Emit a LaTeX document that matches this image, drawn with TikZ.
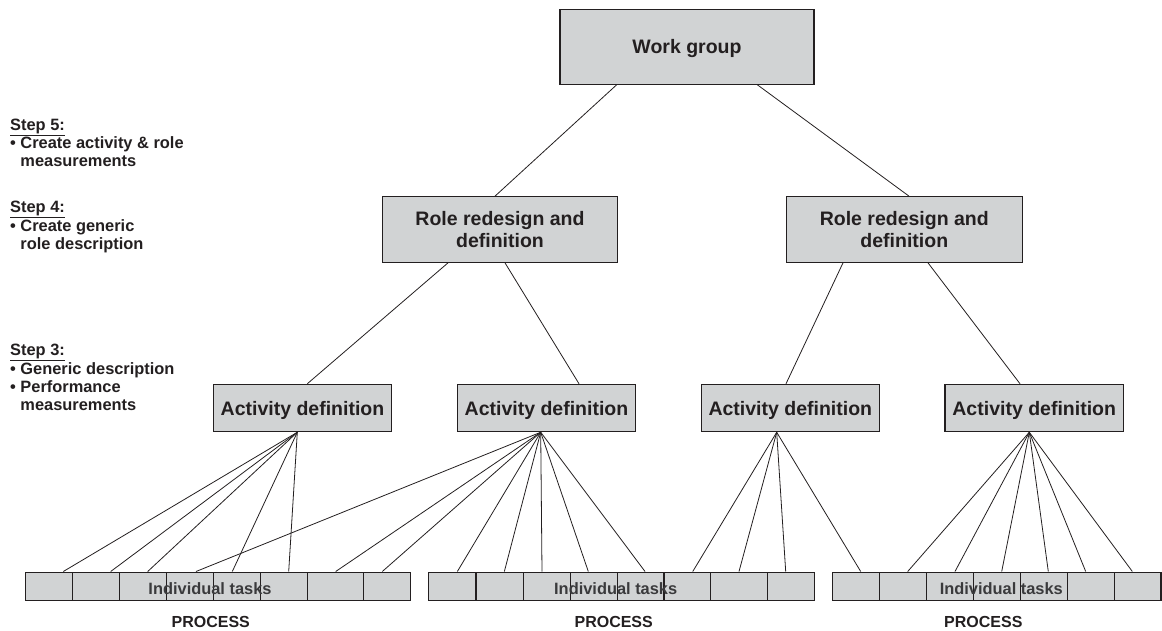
\documentclass[tikz,border=0pt]{standalone}
\usepackage{fontspec}
\setmainfont{Liberation Sans}
\usepackage{xcolor}
\usetikzlibrary{positioning,calc}
\definecolor{boxgray}{HTML}{D1D3D4}
\definecolor{ink}{HTML}{231F20}
\definecolor{taskink}{HTML}{3A3A3C}

\begin{document}
\begin{tikzpicture}[x=1pt,y=-1pt,
  box/.style={draw=ink,line width=1.1pt,fill=boxgray,text=ink,inner sep=0pt,
    align=center,text depth=0pt,font=\fontsize{19.5}{22.7}\selectfont\bfseries},
  cell/.style={draw=ink,line width=1.1pt,fill=boxgray,inner sep=0pt,minimum height=28.3pt},
  link/.style={draw=ink,line width=0.8pt},
  steptext/.style={anchor=north west,inner sep=0pt,align=left,text=ink,
    font=\fontsize{16.4}{18.2}\selectfont\bfseries},
  tasktext/.style={inner sep=0pt,text=taskink,font=\fontsize{16.4}{20}\selectfont\bfseries},
  proctext/.style={inner sep=0pt,text=ink,font=\fontsize{16}{20}\selectfont\bfseries}]
  \useasboundingbox (0,0) rectangle (1162,630);

  % steps on the left
  \node[steptext] (step5) at (10,118.6)
    {\underline{Step 5:}\\• Create activity \& role\\\phantom{• }measurements};
  \node[steptext] (step4) at (10,201.2)
    {\underline{Step 4:}\\• Create generic\\\phantom{• }role description};
  \node[steptext] (step3) at (10,344.2)
    {\underline{Step 3:}\\• Generic description\\• Performance\\\phantom{• }measurements};

  % hierarchy
  \node[box,minimum width=254pt,minimum height=75pt] (wg) at (687,46.7) {Work group};
  \node[box,minimum width=235.5pt,minimum height=65.6pt] (role1) at (500,229.5)
    {Role redesign and\\definition};
  \node[box,minimum width=235.5pt,minimum height=65.6pt] (role2) at (904.3,229.5)
    {Role redesign and\\definition};
  \node[box,minimum width=178.4pt,minimum height=47.4pt] (act1) at (302.5,408) {Activity definition};
  \node[box,minimum width=178.4pt,minimum height=47.4pt] (act2) at (546.5,408) {Activity definition};
  \node[box,minimum width=178.4pt,minimum height=47.4pt] (act3) at (790.3,408) {Activity definition};
  \node[box,minimum width=178.4pt,minimum height=47.4pt] (act4) at (1034.2,408) {Activity definition};

  \draw[link] ([xshift=-70.3pt]wg.south) -- ([xshift=-5pt]role1.north);
  \draw[link] ([xshift=70.3pt]wg.south) -- ([xshift=4.7pt]role2.north);
  \draw[link] ([xshift=-52pt]role1.south) -- ([xshift=4.8pt]act1.north);
  \draw[link] ([xshift=5pt]role1.south) -- ([xshift=32.5pt]act2.north);
  \draw[link] ([xshift=-61.3pt]role2.south) -- ([xshift=-4.3pt]act3.north);
  \draw[link] ([xshift=23.7pt]role2.south) -- ([xshift=-14.2pt]act4.north);

  % task bars
  \foreach \a/\b [count=\i] in {25.7/72.3,72.3/119.7,119.7/166.7,166.7/213.7,
      213.7/260.7,260.7/307.3,307.3/363.3,363.3/410.7}
    \node[cell,minimum width={(\b-\a)*1pt}] (ba-\i) at ({(\a+\b)/2},586.2) {};
  \foreach \a/\b [count=\i] in {428.3/476,476/523.3,523.3/570.3,570.3/617.3,
      617.3/664,664/710.7,710.7/767.3,767.3/814.3}
    \node[cell,minimum width={(\b-\a)*1pt}] (bb-\i) at ({(\a+\b)/2},586.2) {};
  \foreach \a/\b [count=\i] in {832.3/879.3,879.3/926.7,926.7/973.3,973.3/1020.3,
      1020.3/1067.3,1067.3/1114.3,1114.3/1161}
    \node[cell,minimum width={(\b-\a)*1pt}] (bc-\i) at ({(\a+\b)/2},586.2) {};

  \node[tasktext] (tasksa) at (210,589) {Individual tasks};
  \node[tasktext] (tasksb) at (615.7,589) {Individual tasks};
  \node[tasktext] (tasksc) at (1001.3,589) {Individual tasks};
  \node[proctext] (proca) at (210.8,622) {PROCESS};
  \node[proctext] (procb) at (613.7,622) {PROCESS};
  \node[proctext] (procc) at (983.3,622) {PROCESS};

  % activities to tasks
  \foreach \c/\dx in {1/14.3,2/14.7,3/4.5,5/-4.9,6/4.7}
    \draw[link] ([xshift=-5.2pt]act1.south) -- ([xshift=\dx pt]ba-\c.north);
  \foreach \c/\dx in {4/5.8,7/0.4,8/-4.7}
    \draw[link] ([xshift=-5.8pt]act2.south) -- ([xshift=\dx pt]ba-\c.north);
  \foreach \c/\dx in {1/5.2,2/4.7,3/-4.8,4/-5.5,5/4.4}
    \draw[link] ([xshift=-5.8pt]act2.south) -- ([xshift=\dx pt]bb-\c.north);
  \foreach \c/\dx in {6/5.4,7/0,8/-5.1}
    \draw[link] ([xshift=-13.6pt]act3.south) -- ([xshift=\dx pt]bb-\c.north);
  \draw[link] ([xshift=-13.6pt]act3.south) -- ([xshift=4.9pt]bc-1.north);
  \foreach \c/\dx in {2/4.7,3/5,4/4.9,5/4.5,6/-5.1,7/-5.3}
    \draw[link] ([xshift=-4.9pt]act4.south) -- ([xshift=\dx pt]bc-\c.north);
\end{tikzpicture}
\end{document}
